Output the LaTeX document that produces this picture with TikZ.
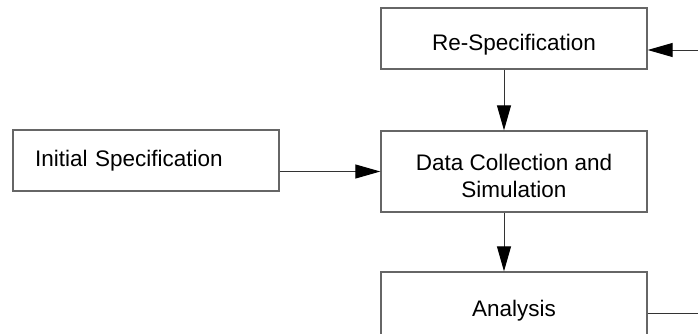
\documentclass[tikz,border=0pt]{standalone}
\usepackage{fontspec}
\setmainfont{Liberation Sans}
\usetikzlibrary{arrows.meta}

\begin{document}
\begin{tikzpicture}[x=0.5pt,y=-0.5pt,
  stagebox/.style={draw=black!60, line width=0.7pt, minimum width=133pt,
    minimum height=30.5pt, inner sep=0pt, font=\fontsize{11.25}{13.5}\selectfont},
  lowtext/.style={text height=11.5pt, text depth=0pt},
  flow/.style={draw=black!80, line width=0.5pt, -{Triangle[length=12.5pt,width=7pt,color=black]}},
  plain/.style={draw=black!80, line width=0.5pt}]
\useasboundingbox (0,0) rectangle (698,333);
% stages
\node[stagebox, lowtext] (respec) at (514,38.5) {Re-Specification};
\node[stagebox, text width=111pt, inner xsep=11pt, align=left] (initspec) at (146,160.5) {Initial Specification};
\node[stagebox, text height=25.5pt, text depth=0pt, minimum height=40.5pt, align=center] (datacol) at (514,171.5) {Data Collection and\\Simulation};
\node[stagebox, lowtext, minimum height=33pt] (analysis) at (514,305) {Analysis};
% feedback ends at the right border
\coordinate (fbin) at (698,50);
\coordinate (fbout) at (698,313);
% connectors
\draw[flow] (fbin) -- (fbin -| respec.east);
\draw[flow] ([xshift=-5pt]respec.south) -- ([xshift=-5pt]datacol.north);
\draw[flow] (initspec.east |- datacol.west) -- (datacol.west);
\draw[flow] ([xshift=-5pt]datacol.south) -- ([xshift=-5pt]analysis.north);
\draw[plain] (analysis.east |- fbout) -- (fbout);
\end{tikzpicture}
\end{document}
